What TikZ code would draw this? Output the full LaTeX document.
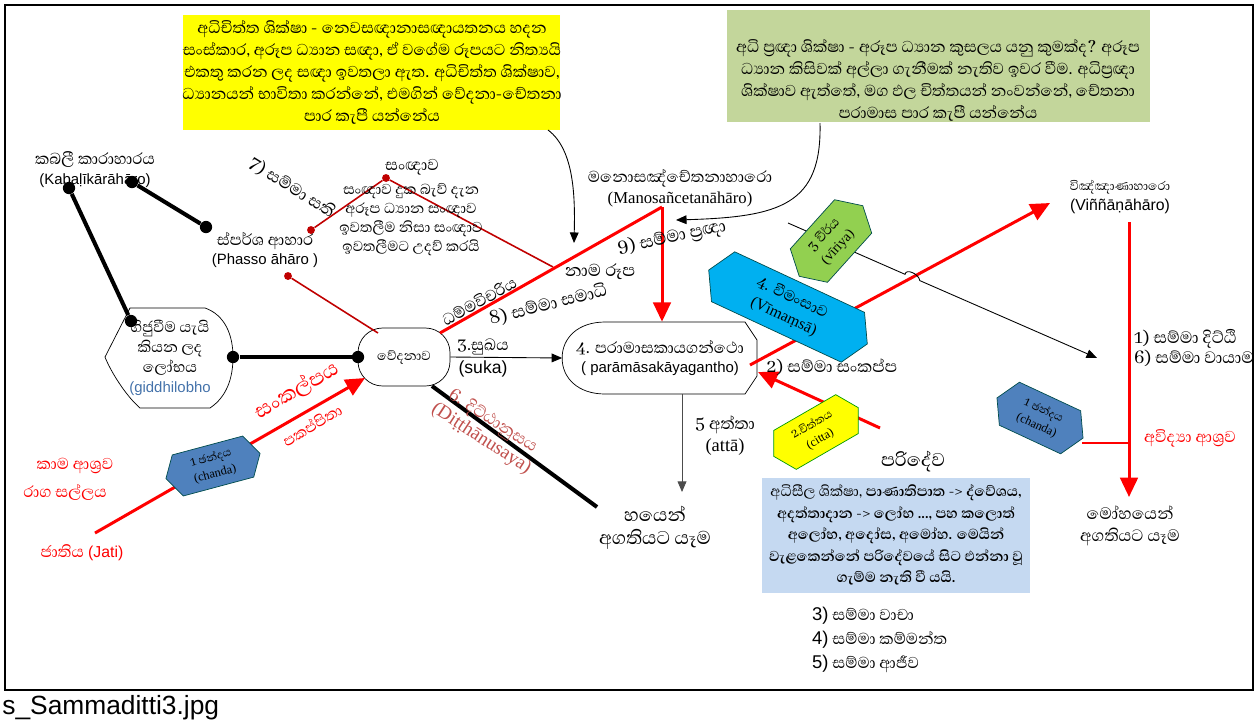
\documentclass[tikz,border=0pt]{standalone}
\usepackage{fontspec}
\setmainfont{Liberation Sans}
\newfontfamily\sinf[Script=Sinhala]{Abhaya Libre}
\newfontfamily\tms{Liberation Serif}
\usetikzlibrary{arrows.meta,shapes.symbols}
\definecolor{boxyellow}{rgb}{1,1,0}
\definecolor{boxgreen}{RGB}{195,214,155}
\definecolor{boxblue}{RGB}{197,217,241}
\definecolor{hexblue}{RGB}{79,129,189}
\definecolor{hexcyan}{RGB}{0,176,240}
\definecolor{hexgreen}{RGB}{146,208,80}
\definecolor{darkred}{RGB}{192,0,0}
\definecolor{softred}{RGB}{192,80,77}
\definecolor{txtblue}{RGB}{68,114,170}
\newcommand\sn{\sinf\fontsize{11.5}{13}\selectfont}

\tikzset{
  sin/.style={font=\sinf\fontsize{11.5}{12.5}\selectfont, align=center, inner sep=1pt},
  lat/.style={font=\fontsize{8.5}{11.3}\selectfont, align=center, inner sep=1pt},
  tim/.style={font=\tms\fontsize{9.5}{12}\selectfont, align=center, inner sep=1pt},
  bigline/.style={line width=2.3pt},
  redline/.style={red, line width=1.7pt},
  redarrow/.style={redline, -{Triangle[length=11pt,width=10pt]}},
  thinarrow/.style={line width=0.5pt, -{Triangle[length=6pt,width=5pt]}},
  thinred/.style={darkred, line width=0.9pt},
  bdot/.style={circle, fill=black, inner sep=0pt, minimum size=7pt},
  rdot/.style={circle, fill=darkred, inner sep=0pt, minimum size=4.5pt},
  hexa/.style={shape=signal, signal to=west and east, signal pointer angle=120,
    draw=teal!60!black, inner sep=1pt, align=center, font=\tms\fontsize{7}{9.5}\selectfont},
}

\begin{document}
\begin{tikzpicture}[x=0.02cm, y=-0.02cm]
\useasboundingbox (0,0) rectangle (1257,724);

\draw[line width=1.4pt] (5,5) rectangle (1253,690);
\node[anchor=base west, font=\fontsize{15}{18}\selectfont, inner sep=0pt] (cap) at (2,714) {s\_Sammaditti3.jpg};

% text boxes
\node[fill=boxyellow, minimum width=7.54cm, minimum height=2.3cm] (yel) at (371.5,72.5) {};
\node[sin] (yeltxt) at (372,72)
  {අධිචිත්ත ශික්ෂා - නෙවසඥානාසඥායතනය හදන\\ සංස්කාර, අරූප ධ්^^^^200dයාන සඥා, ඒ වගේම රූපයට නිත්^^^^200dයයි\\ එකතු කරන ලද සඥා ඉවතලා ඇත. අධිචිත්ත ශික්ෂාව,\\ ධ්^^^^200dයානයන් භාවිතා කරන්නේ, එමගින් වේදනා-චේතනා\\ පාර කැපී යන්නේය};
\node[fill=boxgreen, minimum width=8.46cm, minimum height=2.26cm] (grn) at (938.5,66) {};
\node[sin] (grntxt) at (938,80)
  {අධි ප්^^^^200dරඥා ශික්ෂා - අරූප ධ්^^^^200dයාන කුසලය යනු කුමක්ද? අරූප\\ ධ්^^^^200dයාන කිසිවක් අල්ලා ගැනීමක් නැතිව ඉවර වීම. අධිප්^^^^200dරඥා\\ ශික්ෂාව ඇත්තේ, මග ඵල චිත්තයන් නංවන්නේ, චේතනා\\ පරාමාස පාර කැපී යන්නේය};
\node[fill=boxblue, minimum width=5.36cm, minimum height=2.3cm] (blu) at (896,535.5) {};
\node[sin, font=\sinf\bfseries\fontsize{10.5}{12.2}\selectfont] (blutxt) at (896,535)
  {{\mdseries අධිසීල ශික්ෂා,} පාණාතිපාත -> ද්වේශය,\\ අදත්තාදාන -> ලෝභ ..., පහ කලොත්\\ අලෝභ, අදෝස, අමෝහ. මෙයින්\\ වැළකෙන්නේ පරිදේවයේ සිට එන්නා වූ\\ ගැම්ම නැති වී යයි.};

\coordinate (ys) at (548,130);
\coordinate (ye) at (574,243);
\coordinate (gs) at (820,123);
\coordinate (ge) at (676,220);
\draw[thinarrow] (ys) .. controls (575,150) and (575,200) .. (ye);
\draw[thinarrow] (gs) .. controls (822,205) and (780,217) .. (ge);

% main nodes
\node[draw, rounded corners=14pt, minimum width=1.84cm, minimum height=1.16cm, sin, font=\sinf\fontsize{9.5}{10}\selectfont] (ved) at (404,357) {වේදනාව};
\node[minimum width=3.9cm, minimum height=1.44cm, lat] (par) at (660,358)
  {{\sn 4. පරාමාසකායගන්ථො}\\( parāmāsakāyagantho)};
\draw (605,322) -- (745,322) -- (757,340) -- (757,376) -- (745,394) -- (605,394)
  .. controls (578,394) and (562,378) .. (par.west) .. controls (562,338) and (578,322) .. cycle;
\draw (130,308) -- (205,308) .. controls (225,315) and (233,335) .. (233,357)
  .. controls (233,385) and (222,400) .. (210,408) -- (140,408)
  .. controls (125,395) and (110,370) .. (105,357) -- cycle;
\node[sin, font=\sinf\fontsize{11}{11.5}\selectfont] (gid) at (170,358) {ගිජුවීම යැයි\\ කියන ලද\\ ලෝභය\\ {\rmfamily\fontsize{8.5}{10}\selectfont\color{txtblue}(giddhilobho}};

% dots
\node[bdot] (k1) at (69,188) {};
\node[bdot] (k2) at (132,182) {};
\node[bdot] (p1) at (206,227) {};
\node[bdot] (g1) at (131,321) {};
\node[bdot] (g2) at (233,357) {};
\node[bdot] (v1) at (358,357) {};
\node[rdot] (r1) at (311,230) {};
\node[rdot] (r2) at (386,178) {};
\node[rdot] (r3) at (288,276) {};

\coordinate (vtop) at (378,333);
\coordinate (vne) at (440,333);
\coordinate (vsw) at (365,378);
\coordinate (vse) at (432,386);
\coordinate (nm) at (553,267);
\coordinate (mtop) at (662,207);
\coordinate (dt) at (597,507);
\coordinate (jt) at (95,533);
\coordinate (ps) at (750,365);
\coordinate (vn) at (1050,203);
\coordinate (vtop2) at (1129,222);
\coordinate (mo) at (1129,497);
\coordinate (ct) at (880,428);
\coordinate (pe) at (758,372);
\coordinate (ch) at (1082,443);
\coordinate (cq) at (1129,443);
\coordinate (ms) at (788,223);
\coordinate (vm) at (1097,358);
\coordinate (ha) at (682,492);

\draw[bigline] (k2) -- (p1);
\draw[bigline] (k1) -- (g1);
\draw[bigline] (g2) -- (v1);
\draw[bigline] (vse) -- (dt);
\draw[thinred] (r1) -- (r2) -- (nm);
\draw[thinred] (r3) -- (vtop);
\draw[redline] (vne) -- (mtop);
\draw[redarrow] (mtop) -- (mtop |- par.north);
\draw[redarrow] (jt) -- (vsw);
\draw[redarrow] (ps) -- (vn);
\draw[redarrow] (vtop2) -- (mo);
\draw[redarrow] (ct) -- (pe);
\draw[red, line width=0.6pt] (ch) -- (cq);
\draw[thinarrow] (ved.east) -- (par.west);
\draw[thinarrow, black!70] (par.south -| ha) -- (ha);
\draw[thinarrow] (ms) -- (905,274.3) .. controls (906,268) and (919,274) .. (919.8,280.6) -- (vm);

% hexagons
\node[hexa, fill=hexblue, minimum width=1.95cm, minimum height=0.85cm, rotate=15] (ch1) at (213,466) {{\sinf\fontsize{8}{9}\selectfont 1 ඡන්දය}\\(chanda)};
\node[hexa, fill=hexcyan, minimum width=3.5cm, minimum height=1.1cm, rotate=-25, font=\tms\fontsize{9}{11.5}\selectfont] (vim) at (788,307) {{\sinf\fontsize{11}{12}\selectfont 4. වීමංසාව}\\(Vīmaṃsā)};
\node[hexa, fill=hexgreen, minimum width=1.9cm, minimum height=1.0cm, rotate=48, font=\tms\fontsize{8}{10.5}\selectfont] (vir) at (831,241) {{\sinf\fontsize{9.5}{10}\selectfont 3 වීර්ය}\\(vīriya)};
\node[hexa, fill=hexblue, minimum width=1.9cm, minimum height=0.95cm, rotate=-25] (ch2) at (1040,418) {{\sinf\fontsize{8}{9}\selectfont 1 ඡන්දය}\\(chanda)};
\node[hexa, fill=boxyellow, draw=green!60!black, minimum width=1.95cm, minimum height=0.9cm, rotate=30] (cit) at (816,432) {{\sinf\fontsize{8}{9}\selectfont 2.චිත්තය}\\(citta)};

% labels
\node[lat] (kab) at (95,170) {{\sn කබලී කාරාහාරය}\\(Kabaḷīkārāhāro)};
\node[lat] (pha) at (265,250) {{\sn ස්පර්ශ ආහාර}\\(Phasso āhāro )};
\node[sin, font=\sinf\fontsize{12}{14}\selectfont, rotate=-32] (sati) at (292,188) {7) සම්මා සති};
\node[sin] (san) at (412,167) {සංඥාව};
\node[sin, font=\sinf\fontsize{10.5}{10.8}\selectfont] (santxt) at (411,220) {සංඥාව දුක බැව් දැන\\ අරූප ධ්^^^^200dයාන සංඥාව\\ ඉවතලීම නිසා සංඥාව\\ ඉවතලීමට උදව් කරයි};
\node[tim] (mano) at (680,188) {{\sn මනොසඤ්චේතනාහාරො}\\(Manosañcetanāhāro)};
\node[sin, font=\sinf\fontsize{12.5}{13}\selectfont, rotate=12] (s9) at (672,238) {9) සම්මා ප්^^^^200dරඥා};
\node[sin, font=\sinf\fontsize{12.5}{13}\selectfont] (nama) at (600,272) {නාම රූප};
\node[sin, rotate=29] (dham) at (479,301) {ධම්මවිචරිය};
\node[sin, font=\sinf\fontsize{12.5}{13}\selectfont, rotate=14] (s8) at (548,305) {8) සම්මා සමාධි};
\node[lat, font=\fontsize{10}{13.5}\selectfont] (suk) at (483,358) {{\sn 3.සුඛය}\\(suka)};
\node[sin, font=\sinf\fontsize{12}{12}\selectfont] (s2) at (832,367) {2) සම්මා සංකප්ප};
\node[lat, font=\fontsize{9}{11}\selectfont] (vin) at (1120,197) {{\sinf\fontsize{9}{10}\selectfont විඤ්ඤාණාහාරො}\\(Viññāṇāhāro)};
\node[sin, font=\sinf\fontsize{12}{11.5}\selectfont, align=left] (s16) at (1194,348) {1) සම්මා දිට්ඨි\\6) සම්මා වායාම};
\node[sin, red] (avi) at (1190,438) {අවිද්^^^^200dයා ආශ්^^^^200dරව};
\node[sin, font=\sinf\fontsize{12}{12.5}\selectfont] (moh) at (1130,526) {මෝහයෙන්\\ අගතියට යෑම};
\node[tim, font=\tms\fontsize{10.5}{12.5}\selectfont] (att) at (725,436) {{\sinf\fontsize{12}{12}\selectfont 5 අත්තා}\\(attā)};
\node[sin, font=\sinf\fontsize{13.5}{13}\selectfont] (hay) at (655,528) {හයෙන්\\ අගතියට යෑම};
\node[sin, font=\sinf\fontsize{13.5}{14}\selectfont] (pari) at (913,462) {පරිදේව};
\node[sin, font=\sinf\fontsize{11.5}{13.6}\selectfont, align=left, anchor=west] (s345) at (810,640) {{\rmfamily\fontsize{10.5}{12}\selectfont 3)} සම්මා වාචා\\ {\rmfamily\fontsize{10.5}{12}\selectfont 4)} සම්මා කම්මන්ත\\ {\rmfamily\fontsize{10.5}{12}\selectfont 5)} සම්මා ආජීව};
\node[tim, softred, font=\tms\fontsize{11}{12}\selectfont, rotate=-33] (dit) at (487,430) {{\sinf\fontsize{12}{12}\selectfont 6. දිට්ඨානුසය}\\(Diṭṭhānusaya)};
\node[sin, red, font=\sinf\fontsize{15}{16}\selectfont, rotate=30] (sank) at (297,390) {සංකල්පය};
\node[sin, red, font=\sinf\fontsize{11}{11}\selectfont, rotate=31] (sank2) at (312,425) {පකප්පිතා};
\node[sin, red] (kama) at (75,466) {කාම ආශ්^^^^200dරව};
\node[sin, red] (raga) at (65,492) {රාග සල්ලය};
\node[lat, red, font=\fontsize{9}{11}\selectfont] (jat) at (82,553) {{\sn ජාතිය} (Jati)};
\end{tikzpicture}
\end{document}
